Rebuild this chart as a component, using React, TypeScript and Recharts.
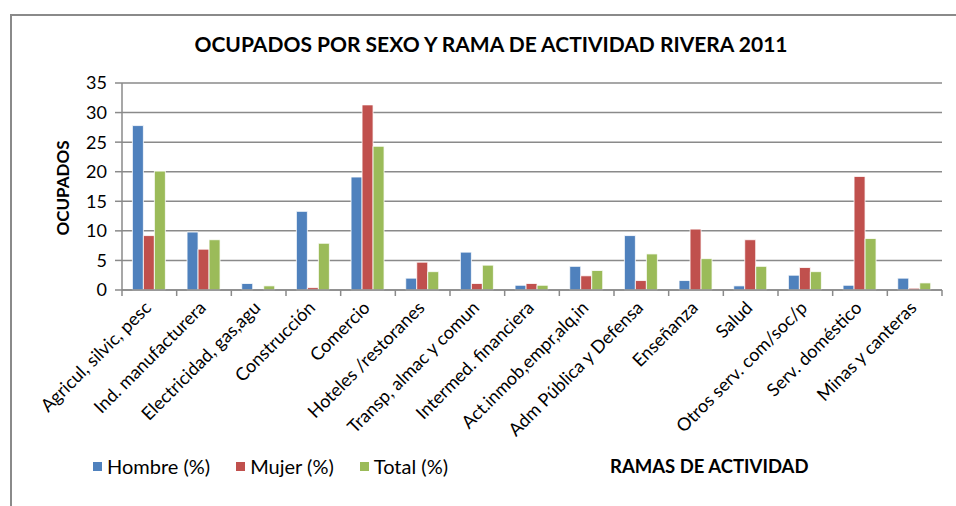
import React from "react"
import { BarChart, Bar, XAxis, YAxis, CartesianGrid } from "recharts"

const categories = [
  "Agricul, silvic, pesc",
  "Ind. manufacturera",
  "Electricidad, gas,agu",
  "Construcción",
  "Comercio",
  "Hoteles /restoranes",
  "Transp, almac y comun",
  "Intermed. financiera",
  "Act.inmob,empr,alq,in",
  "Adm Pública y Defensa",
  "Enseñanza",
  "Salud",
  "Otros serv. com/soc/p",
  "Serv. doméstico",
  "Minas y canteras",
]

const hombre = [27.8, 9.8, 1.1, 13.3, 19.1, 2.0, 6.4, 0.8, 4.0, 9.2, 1.6, 0.7, 2.5, 0.8, 2.0]
const mujer = [9.2, 6.9, 0, 0.4, 31.3, 4.7, 1.1, 1.1, 2.4, 1.6, 10.3, 8.5, 3.8, 19.2, 0.3]
const total = [20.1, 8.5, 0.7, 7.9, 24.3, 3.1, 4.2, 0.8, 3.3, 6.1, 5.3, 4.0, 3.1, 8.7, 1.2]

const yTicks = [0, 5, 10, 15, 20, 25, 30, 35]

const series = [
  { key: "hombre", name: "Hombre (%)", color: "#4F81BD" },
  { key: "mujer", name: "Mujer (%)", color: "#C0504D" },
  { key: "total", name: "Total (%)", color: "#9BBB59" },
]

const data = categories.map((name, i) => ({
  name,
  hombre: hombre[i],
  mujer: mujer[i],
  total: total[i],
}))

const FONT = "Lato, 'Open Sans', sans-serif"
const GRID = "#8a8a8a"

function CategoryTick(props: any) {
  const { x, y, payload, index } = props
  const half = payload && payload.offset ? payload.offset : 0
  const last = index === categories.length - 1
  return (
    <g>
      <line x1={x - half} y1={y} x2={x - half} y2={y + 6} stroke={GRID} strokeWidth={1.5} />
      {last && <line x1={x + half} y1={y} x2={x + half} y2={y + 6} stroke={GRID} strokeWidth={1.5} />}
      <g transform={`translate(${x + 3},${y + 19})`}>
        <text
          textAnchor="end"
          transform="rotate(-45)"
          fontSize={18}
          fontFamily={FONT}
          fill="#000"
        >
          {payload.value}
        </text>
      </g>
    </g>
  )
}

export default function App() {
  return (
    <div
      style={{
        position: "absolute",
        left: 0,
        top: 0,
        width: 956,
        height: 506,
        background: "#fff",
        overflow: "hidden",
        fontFamily: FONT,
      }}
    >
      <div
        style={{
          position: "absolute",
          left: 10,
          top: 14,
          width: 980,
          height: 520,
          border: `2px solid ${GRID}`,
          boxSizing: "border-box",
        }}
      />
      <div
        style={{
          position: "absolute",
          left: 0,
          width: 982,
          top: 31,
          textAlign: "center",
          fontWeight: 700,
          fontSize: 21,
          color: "#000",
        }}
      >
        OCUPADOS POR SEXO Y RAMA DE ACTIVIDAD RIVERA 2011
      </div>
      <div
        style={{
          position: "absolute",
          left: 62,
          top: 188,
          transform: "translate(-50%, -50%) rotate(-90deg)",
          fontWeight: 700,
          fontSize: 17,
          whiteSpace: "nowrap",
        }}
      >
        OCUPADOS
      </div>
      <div style={{ position: "absolute", left: 0, top: 0 }}>
        <BarChart
          width={956}
          height={506}
          data={data}
          margin={{ top: 83, right: 14, left: 82, bottom: 0 }}
          barCategoryGap="19%"
          barGap={0}
        >
          <CartesianGrid vertical={false} stroke={GRID} strokeWidth={1.5} />
          <XAxis
            dataKey="name"
            interval={0}
            height={216}
            tickSize={0}
            tickMargin={0}
            tickLine={false}
            axisLine={{ stroke: GRID, strokeWidth: 1.5 }}
            tick={<CategoryTick />}
          />
          <YAxis
            width={40}
            domain={[0, 35]}
            ticks={yTicks}
            interval={0}
            tickSize={7}
            tickMargin={8}
            tickLine={{ stroke: GRID, strokeWidth: 1.5 }}
            axisLine={{ stroke: GRID, strokeWidth: 1.5 }}
            tick={{ fill: "#000", fontSize: 18, fontFamily: FONT }}
          />
          {series.map((s) => (
            <Bar
              key={s.key}
              dataKey={s.key}
              name={s.name}
              fill={s.color}
              stroke="#ffffff"
              strokeWidth={0.8}
              isAnimationActive={false}
            />
          ))}
        </BarChart>
      </div>
      <div
        style={{
          position: "absolute",
          left: 93,
          top: 454,
          display: "flex",
          gap: 26,
          fontSize: 20,
          color: "#000",
        }}
      >
        {series.map((s) => (
          <div key={s.key} style={{ display: "flex", alignItems: "center" }}>
            <span
              style={{ width: 9, height: 9, background: s.color, display: "inline-block", marginRight: 5 }}
            />
            <span>{s.name}</span>
          </div>
        ))}
      </div>
      <div
        style={{
          position: "absolute",
          left: 610,
          top: 455,
          fontWeight: 700,
          fontSize: 18.5,
          color: "#000",
        }}
      >
        RAMAS DE ACTIVIDAD
      </div>
    </div>
  )
}
